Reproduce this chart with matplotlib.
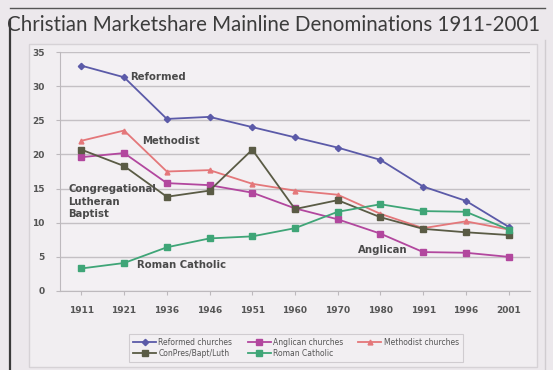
import matplotlib
matplotlib.use("Agg")
import matplotlib.pyplot as plt
from matplotlib.lines import Line2D
from matplotlib.patches import Rectangle

years = ["1911", "1921", "1936", "1946", "1951", "1960", "1970", "1980", "1991", "1996", "2001"]
reformed = [33.0, 31.3, 25.2, 25.5, 24.0, 22.5, 21.0, 19.2, 15.3, 13.2, 9.4]
anglican = [19.6, 20.2, 15.8, 15.5, 14.4, 12.1, 10.5, 8.4, 5.7, 5.6, 5.0]
methodist = [22.0, 23.5, 17.5, 17.7, 15.7, 14.7, 14.1, 11.3, 9.2, 10.2, 9.0]
conpres = [20.7, 18.3, 13.8, 14.7, 20.7, 12.0, 13.3, 10.8, 9.1, 8.6, 8.2]
catholic = [3.3, 4.1, 6.4, 7.7, 8.0, 9.2, 11.6, 12.7, 11.7, 11.6, 9.0]

series = [
    ("Reformed churches", reformed, "#5b5aa8", "D", 3.2),
    ("Anglican churches", anglican, "#b2479e", "s", 4.5),
    ("Methodist churches", methodist, "#e4777a", "^", 3.5),
    ("ConPres/Bapt/Luth", conpres, "#5a5b45", "s", 5.0),
    ("Roman Catholic", catholic, "#3fa577", "s", 5.0),
]

fig = plt.figure(figsize=(5.53, 3.70), dpi=100)
fig.patch.set_facecolor("#ece8ec")

W, H = 553, 370
def fx(px):
    return px / W
def fy(py):
    return 1 - py / H

# slide frames
fig.add_artist(Rectangle((fx(29), fy(367)), fx(537) - fx(29), fy(44) - fy(367),
                         transform=fig.transFigure, facecolor="#f1eef1",
                         edgecolor="#d6d2d6", linewidth=1.0, zorder=0))
fig.add_artist(Line2D([fx(10), fx(10)], [fy(20), 0], transform=fig.transFigure,
                      color="#3a3a3a", linewidth=1.6))
fig.add_artist(Line2D([fx(10), fx(545)], [fy(8), fy(8)], transform=fig.transFigure,
                      color="#555555", linewidth=1.0))
fig.add_artist(Line2D([fx(545), fx(545)], [fy(40), 0], transform=fig.transFigure,
                      color="#d0ccd0", linewidth=1.0))

fig.text(fx(7), fy(31), "Christian Marketshare Mainline Denominations 1911-2001",
         family="Lato", fontsize=14.8, color="#3c3c3c", ha="left", va="baseline")

ax = fig.add_axes([fx(60), fy(291), fx(530) - fx(60), fy(52) - fy(291)])
ax.set_facecolor("#f3f0f3")

x = list(range(len(years)))
handles = {}
for label, vals, color, marker, ms in series:
    (ln,) = ax.plot(x, vals, color=color, marker=marker, markersize=ms, linewidth=1.3,
                    label=label, markeredgecolor=color)
    handles[label] = ln

ax.set_xlim(-0.5, len(years) - 0.5)
ax.set_ylim(0, 35)
ax.set_yticks(range(0, 36, 5))
ax.set_xticks(x)
ax.set_xticklabels(years)
ax.grid(axis="y", color="#c4c0c4", linewidth=1.0)
ax.set_axisbelow(True)
for s in ("top", "right"):
    ax.spines[s].set_visible(False)
for s in ("left", "bottom"):
    ax.spines[s].set_color("#bdb9bd")
ax.tick_params(axis="both", colors="#bdb9bd", labelcolor="#555555", labelsize=6.5, length=3)
for lab in ax.get_xticklabels() + ax.get_yticklabels():
    lab.set_fontweight("bold")
ax.tick_params(axis="x", pad=8)
ax.tick_params(axis="y", pad=8)

txt = dict(fontsize=7.3, fontweight="bold", color="#4a4a4a", va="center", ha="left")
ax.text(1.14, 31.3, "Reformed", **txt)
ax.text(1.42, 21.9, "Methodist", **txt)
ax.text(-0.31, 13.1, "Congregational\nLutheran\nBaptist", linespacing=1.35, **txt)
ax.text(1.30, 3.8, "Roman Catholic", **txt)
ax.text(6.48, 6.0, "Anglican", **txt)

# row-wise legend order for a 3-column layout
order = ["Reformed churches", "ConPres/Bapt/Luth", "Anglican churches",
         "Roman Catholic", "Methodist churches"]
leg = fig.legend([handles[k] for k in order], order, loc="center",
                 bbox_to_anchor=(fx(296), fy(348)), ncol=3,
                 fontsize=5.5, frameon=True, fancybox=False, edgecolor="#c8c4c8",
                 facecolor="#f3f0f3", handlelength=3.0, columnspacing=2.0,
                 labelspacing=0.3, borderpad=0.5, handletextpad=0.3)
leg.get_frame().set_linewidth(0.8)
for t in leg.get_texts():
    t.set_color("#555555")

fig.savefig("out.png", dpi=100, facecolor=fig.get_facecolor())
